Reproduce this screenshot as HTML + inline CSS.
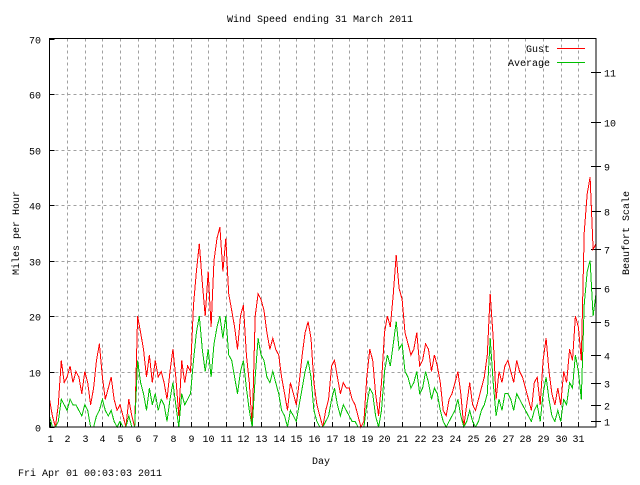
<!DOCTYPE html>
<html><head><meta charset="utf-8"><style>
html,body{margin:0;padding:0;background:#fff;}
svg text{font-family:"Liberation Mono",monospace;font-size:10px;fill:#000;}
</style></head><body>
<svg id="chart" width="640" height="480" viewBox="0 0 640 480" xmlns="http://www.w3.org/2000/svg">
<rect width="640" height="480" fill="#fff"/>
<g id="grid"></g>
<g id="axes"></g>
<g id="series" shape-rendering="crispEdges"></g>
<rect x="49.5" y="38.5" width="546.5" height="388.5" fill="none" stroke="#000" stroke-width="1"/>
<text x="320" y="22" text-anchor="middle">Wind Speed ending 31 March 2011</text>
<text transform="translate(19,233) rotate(-90)" text-anchor="middle">Miles per Hour</text>
<text transform="translate(629,233) rotate(-90)" text-anchor="middle">Beaufort Scale</text>
<text x="321" y="464" text-anchor="middle">Day</text>
<text x="18" y="476">Fri Apr 01 00:03:03 2011</text>
<g>
<text x="550" y="52" text-anchor="end">Gust</text>
<line x1="557" y1="48.5" x2="585" y2="48.5" stroke="#ff0000"/>
<text x="550" y="66" text-anchor="end">Average</text>
<line x1="557" y1="62.5" x2="585" y2="62.5" stroke="#00c000"/>
</g>
</svg>
<script>
const dayTicks=[1,2,3,4,5,6,7,8,9,10,11,12,13,14,15,16,17,18,19,20,21,22,23,24,25,26,27,28,29,30,31];
const mphTicks=[0,10,20,30,40,50,60,70];
const beaufortTicks=[1,2,3,4,5,6,7,8,9,10,11];
const beaufortMph=[1,4,8,13,19,25,32,39,47,55,64];
const samplesPerDay=6;
const gust=[5,2,0,4,12,8, 9,11,8,10,9,6, 10,8,4,7,12,15, 9,5,7,9,5,3, 4,2,0,5,2,0,
20,17,14,9,13,8, 12,9,10,8,5,10, 14,9,2,12,8,11, 10,22,28,33,26,20, 28,18,30,34,36,28,
34,24,21,18,14,20, 22,13,8,0,20,24, 23,21,17,14,16,14, 13,9,6,3,8,6, 4,8,13,17,19,16,
8,4,2,0,3,5, 11,12,9,6,8,7, 7,5,4,2,0,1, 9,14,12,6,2,8, 17,20,18,24,31,25,
23,17,15,13,14,17, 11,12,15,14,10,13, 11,8,3,2,5,6, 8,10,6,0,4,8, 4,3,5,7,9,13,
24,16,5,10,8,11, 12,10,8,12,10,9, 7,5,3,8,9,4, 12,16,10,6,4,7, 4,10,8,14,12,20,
18,12,35,42,45,32, 33];
const average=[2,0,0,1,5,4, 3,5,4,4,3,2, 4,3,0,0,2,3, 5,3,2,3,1,0, 1,0,0,2,0,0,
12,8,6,3,7,4, 6,3,5,4,1,5, 8,4,0,6,4,5, 6,12,17,20,14,10, 14,9,15,18,20,16,
20,13,12,9,6,10, 12,7,3,0,9,16, 13,12,9,8,10,8, 6,3,2,0,3,2, 1,4,7,10,12,9,
3,1,0,0,1,2, 5,7,4,2,4,3, 2,1,1,0,0,0, 4,7,6,2,0,3, 10,13,11,15,19,14,
15,10,9,7,8,10, 6,7,10,8,5,7, 6,3,1,0,1,2, 3,5,2,0,1,3, 1,0,1,3,4,6,
16,8,2,5,3,6, 6,5,3,6,5,4, 3,2,1,3,4,1, 6,9,5,2,1,3, 1,5,4,8,7,13,
10,5,22,28,30,20, 24];
const X0=49.5,X1=596,Y0=427,Y1=38.5,DMIN=1,DMAX=32,VMAX=70;
function xs(d){return X0+(d-DMIN)/(DMAX-DMIN)*(X1-X0);}
function ys(v){return Y0-v/VMAX*(Y0-Y1);}
const NS="http://www.w3.org/2000/svg";
function mk(tag,attrs,parent){const e=document.createElementNS(NS,tag);for(const k in attrs)e.setAttribute(k,attrs[k]);parent.appendChild(e);return e;}
const grid=document.getElementById('grid'),axes=document.getElementById('axes'),series=document.getElementById('series');
dayTicks.forEach(d=>{const x=Math.round(xs(d))+0.5;
 if(d>1){const l=mk('line',{x1:x,y1:Y1,x2:x,y2:Y0,stroke:'#a0a0a0','stroke-dasharray':'3,3'},grid);
 
 }
 const t=mk('line',{x1:x,y1:Y0,x2:x,y2:Y0-5,stroke:'#000'},axes);
 
 
 const lb=mk('text',{x:x,y:442,'text-anchor':'middle'},axes);lb.textContent=d;
 
 });
mphTicks.forEach(v=>{const y=Math.round(ys(v))+0.5;
 if(v>0&&v<70){const l=mk('line',{x1:X0,y1:y,x2:X1,y2:y,stroke:'#a0a0a0','stroke-dasharray':'3,3'},grid);
 
 }
 const t=mk('line',{x1:X0,y1:y,x2:X0+5,y2:y,stroke:'#000'},axes);
 
 
 const lb=mk('text',{x:41,y:y+4,'text-anchor':'end'},axes);lb.textContent=v;
 
 });
beaufortTicks.forEach((b,i)=>{const y=Math.round(ys(beaufortMph[i]))+0.5;
 const t=mk('line',{x1:X1-5,y1:y,x2:X1+5,y2:y,stroke:'#000'},axes);
 
 
 const lb=mk('text',{x:604,y:y+4},axes);lb.textContent=b;
 
 });
function draw(arr,color,name){let pts=[];arr.forEach((v,i)=>{pts.push(xs(DMIN+i/samplesPerDay).toFixed(1)+','+ys(v).toFixed(1));});
 const p=mk('polyline',{points:pts.join(' '),fill:'none',stroke:color,'stroke-width':1},series);
 
 }
draw(gust,'#ff0000','gust-line');
draw(average,'#00c000','average-line');
</script>
</body></html>
